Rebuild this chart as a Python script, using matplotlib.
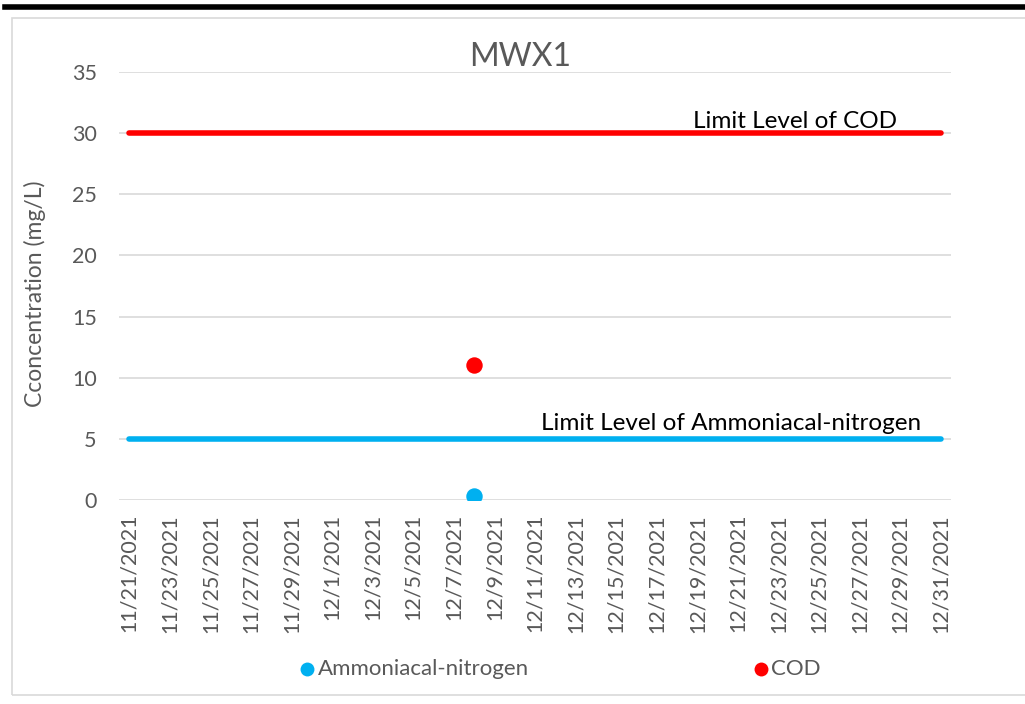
import matplotlib
matplotlib.use("Agg")
import matplotlib.pyplot as plt
from matplotlib.lines import Line2D
from matplotlib.patches import Rectangle
import numpy as np
import datetime as dt

plt.rcParams['font.family'] = ['Lato', 'DejaVu Sans']

title = "MWX1"
ylabel = "Cconcentration (mg/L)"
start_date = dt.datetime(2021, 11, 21)
end_date = dt.datetime(2021, 12, 31)
sample_dates = [dt.datetime(2021, 12, 8)]
ammonia_values = [0.3]
cod_values = [11.0]
cod_limit = 30
ammonia_limit = 5
limit_dates = [start_date, end_date]
series_names = ["Ammoniacal-nitrogen", "COD"]

blue = "#00B0F0"
red = "#FF0000"
gray = "#595959"

W, H = 1025, 704
fig = plt.figure(figsize=(W/100, H/100), dpi=100)
# outer decorations
fig.add_artist(Line2D([0.005, 1.0], [0.99, 0.99], color="black", lw=4, transform=fig.transFigure))
fig.add_artist(Rectangle((0.012, 0.013), 0.99, 0.962, fill=False, edgecolor="#D9D9D9", lw=1.2, transform=fig.transFigure))

ax = fig.add_axes([119/W, 1 - 500/H, (951-119)/W, (500-72)/H])

ax.plot(limit_dates, [cod_limit]*2, color=red, lw=4, solid_capstyle="round", zorder=3)
ax.plot(limit_dates, [ammonia_limit]*2, color=blue, lw=4, solid_capstyle="round", zorder=3)
ax.scatter(sample_dates, ammonia_values, s=140, color=blue, zorder=4, linewidths=0)
ax.scatter(sample_dates, cod_values, s=140, color=red, zorder=4, linewidths=0)

ax.set_ylim(0, 35)
ax.set_yticks(np.arange(0, 36, 5))
half = dt.timedelta(hours=12)
ax.set_xlim(start_date - half, end_date + half)
ticks = [start_date + dt.timedelta(days=2*i) for i in range(21)]
ax.set_xticks(ticks)
ax.set_xticklabels([f"{d.month}/{d.day}/{d.year}" for d in ticks], rotation=90, color=gray, fontsize=15.5)
ax.tick_params(axis='x', length=0, pad=10)
ax.tick_params(axis='y', length=0, pad=16, labelsize=15.5, labelcolor=gray)
ax.grid(axis='y', color="#D9D9D9", lw=1.2)
ax.set_axisbelow(True)
for s in ax.spines.values():
    s.set_visible(False)

fig.text(35/W, 1 - 294/H, ylabel, rotation=90, ha="center", va="center", fontsize=16.5, color=gray)
fig.text(520/W, 1 - 57/H, title, ha="center", va="center", fontsize=23, color=gray)
fig.text(897/W, 1 - 128/H, "Limit Level of COD", ha="right", va="baseline", fontsize=17.5, color="black")
fig.text(921/W, 1 - 430/H, "Limit Level of Ammoniacal-nitrogen", ha="right", va="baseline", fontsize=17.5, color="black")

# legend
for (mx, tx, col, name) in [(307, 318, blue, series_names[0]), (761, 771, red, series_names[1])]:
    fig.add_artist(Line2D([mx/W], [1 - 669/H], marker='o', ls='', color=col, markersize=10,
                          markeredgewidth=0, transform=fig.transFigure))
    fig.text(tx/W, 1 - 669/H, name, ha="left", va="center", fontsize=16, color=gray)

fig.savefig("out.png", dpi=100)
